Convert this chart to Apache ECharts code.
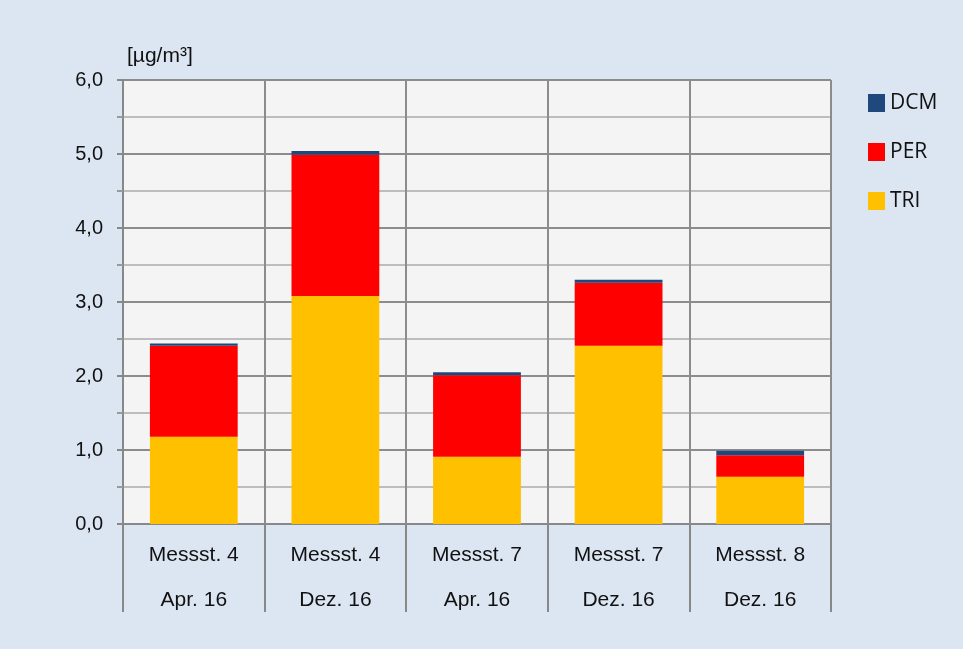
<!DOCTYPE html>
<html>
<head>
<meta charset="utf-8">
<script src="https://cdn.jsdelivr.net/npm/echarts@6/dist/echarts.min.js"></script>
<style>
  html, body { margin: 0; padding: 0; background: #dce6f2; }
  #chart { width: 963px; height: 649px; }
</style>
</head>
<body>
<div id="chart"></div>
<script>
// Messstellen / Zeitraum
const stations = ['Messst. 4', 'Messst. 4', 'Messst. 7', 'Messst. 7', 'Messst. 8'];
const periods = ['Apr. 16', 'Dez. 16', 'Apr. 16', 'Dez. 16', 'Dez. 16'];

// Konzentrationen in µg/m³
const tri = [1.18, 3.08, 0.91, 2.41, 0.64];
const per = [1.23, 1.91, 1.10, 0.85, 0.29];
const dcm = [0.03, 0.05, 0.04, 0.04, 0.06];

const categories = stations.map((s, i) => s + '\n' + periods[i]);

const chart = echarts.init(document.getElementById('chart'));
const font = 'Liberation Sans, Arial, sans-serif';

const option = {
  backgroundColor: '#dce6f2',
  textStyle: { fontFamily: font },
  grid: {
    left: 123, right: 132, top: 80, bottom: 125,
    show: true, backgroundColor: '#f4f4f4', borderWidth: 0
  },
  legend: {
    orient: 'vertical',
    left: 868, top: 92, padding: 0,
    itemWidth: 17, itemHeight: 18, itemGap: 27,
    icon: 'rect',
    data: ['DCM', 'PER', 'TRI'],
    textStyle: { fontSize: 21, lineHeight: 22, color: '#111', fontFamily: 'Open Sans, sans-serif' }
  },
  xAxis: {
    type: 'category',
    data: categories,
    axisLine: { lineStyle: { color: '#888', width: 2 } },
    axisTick: { show: true, interval: 0, length: 88, lineStyle: { color: '#888', width: 2 } },
    splitLine: { show: true, interval: 0, lineStyle: { color: '#8c8c8c', width: 2 } },
    axisLabel: {
      interval: 0, margin: 9, fontSize: 21, lineHeight: 45, color: '#111'
    }
  },
  yAxis: {
    type: 'value',
    min: 0, max: 6, interval: 1,
    name: '[µg/m³]',
    nameLocation: 'end',
    nameGap: 13,
    nameTextStyle: { fontSize: 21, color: '#111', align: 'left', padding: [0, 0, 0, 4] },
    axisLine: { show: true, lineStyle: { color: '#888', width: 2 } },
    axisTick: { show: true, length: 6, lineStyle: { color: '#888', width: 2 } },
    minorTick: { show: true, splitNumber: 2, length: 6, lineStyle: { color: '#999', width: 2 } },
    splitLine: { show: true, lineStyle: { color: '#8c8c8c', width: 2 } },
    minorSplitLine: { show: true, lineStyle: { color: '#bdbdbd', width: 2 } },
    axisLabel: {
      fontSize: 20, color: '#111', margin: 20,
      formatter: v => v.toFixed(1).replace('.', ',')
    }
  },
  series: [
    { name: 'TRI', type: 'bar', stack: 'total', data: tri, barWidth: '62%', itemStyle: { color: '#ffc000' } },
    { name: 'PER', type: 'bar', stack: 'total', data: per, itemStyle: { color: '#ff0000' } },
    { name: 'DCM', type: 'bar', stack: 'total', data: dcm, itemStyle: { color: '#1f497d' } }
  ]
};

chart.setOption(option);
</script>
</body>
</html>
